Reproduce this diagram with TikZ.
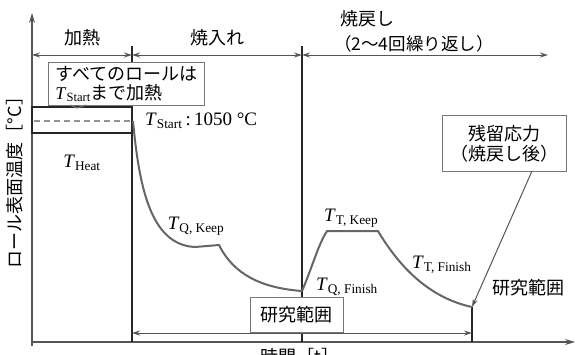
\documentclass[tikz,border=0pt]{standalone}
\usepackage{fontspec}
\setmainfont{Liberation Serif}
\newfontfamily\jp{Noto Sans CJK JP}
\usetikzlibrary{arrows.meta}
\newcommand\Tsub[1]{\textit{T}\textsubscript{#1}}
\definecolor{axisgray}{HTML}{555555}
\definecolor{curvegray}{HTML}{666666}
\definecolor{boxgray}{HTML}{777777}
\tikzset{
  axisline/.style={draw=axisgray, line width=1.3pt},
  sepline/.style={draw=black!85, line width=1.2pt},
  curveline/.style={draw=curvegray, line width=2pt, line join=round},
  dimline/.style={draw=axisgray, line width=1pt, {Stealth[length=8pt,width=5pt]}-{Stealth[length=8pt,width=5pt]}},
  onearrow/.style={draw=axisgray, line width=1pt, -{Stealth[length=8pt,width=5pt]}},
  callbox/.style={draw=boxgray, line width=1pt, fill=white, inner sep=3pt},
  jplabel/.style={font=\jp\fontsize{18}{20}\selectfont, inner sep=0pt},
  tlabel/.style={font=\fontsize{19}{22}\selectfont, inner sep=0pt},
}
\begin{document}
\begin{tikzpicture}[x=1pt,y=-1pt]
\useasboundingbox (0,0) rectangle (580,354);
\fill[white] (0,0) rectangle (580,354);

% coordinates
\coordinate (ytop) at (32,13);
\coordinate (xend) at (575,342);
\coordinate (xstart) at (32,342);
\coordinate (d0) at (32,55);
\coordinate (d1) at (132,55);
\coordinate (d2) at (302,55);
\coordinate (d3) at (548,55);
\coordinate (v1top) at (132,46);
\coordinate (v1bot) at (132,342);
\coordinate (v2top) at (302,46);
\coordinate (v2bot) at (302,342);
\coordinate (tfin) at (472,307);
\coordinate (v3bot) at (472,342);
\coordinate (r0) at (132,333);
\coordinate (r1) at (472,333);

% axes
\draw[axisline, -{Stealth[length=10pt,width=6pt]}] (32,346) -- (ytop);
\draw[axisline, -{Stealth[length=10pt,width=6pt]}] (xstart) -- (xend);

% separators
\draw[sepline] (v1top) -- (v1bot);
\draw[sepline] (v2top) -- (v2bot);
\draw[sepline] (tfin) -- (v3bot);

% dimension lines
\draw[dimline] (d0) -- (d1);
\draw[dimline] (d1) -- (d2);
\draw[dimline] (d2) -- (d3);

% headers
\node[jplabel] (hHeat) at (82,38) {加熱};
\node[jplabel] (hQuench) at (217,38) {焼入れ};
\node[jplabel, anchor=west] (hTemper) at (340,19) {焼戻し};
\node[jplabel, anchor=west, font=\jp\fontsize{17.5}{20}\selectfont] (hRepeat) at (334,44) {（2～4回繰り返し）};

% heat box
\draw[sepline] (32,107) rectangle (132,133);
\draw[draw=boxgray!80, line width=1.5pt, dash pattern=on 6pt off 4pt] (34,121) -- (130,121);
\node[tlabel] (theat) at (82,163) {\Tsub{Heat}};

% callout top-left
\node[callbox, minimum width=156pt, minimum height=43pt, align=left, anchor=north west, inner sep=2pt,
      font=\fontsize{18}{20}\selectfont] (cb1) at (48,62)
  {{\jp すべてのロールは}\\[-1pt]\Tsub{Start}{\jp まで加熱}};
\draw[draw=boxgray, line width=1pt] (70,105) -- (77,108) -- (86,105);

\node[tlabel, anchor=west] (tstart) at (145,121) {\Tsub{Start}\,:\,1050 °C};

% quench curve
\draw[curveline] (133,121) .. controls (139,185) and (150,245) .. (195,247)
  -- (219,245) .. controls (234,275) and (262,288) .. (302,291);
% temper curve
\draw[curveline] (302,291) .. controls (312,268) and (318,245) .. (327,231)
  -- (378,231) .. controls (400,268) and (430,298) .. (tfin);

\node[tlabel] (tqkeep) at (196,226) {\Tsub{Q, Keep}};
\node[tlabel, anchor=west] (tqfin) at (316,287) {\Tsub{Q, Finish}};
\node[tlabel, anchor=west] (ttkeep) at (324,218) {\Tsub{T, Keep}};
\node[tlabel, anchor=west] (ttfin) at (412,265) {\Tsub{T, Finish}};

% research range arrow
\draw[dimline] (r0) -- (r1);
\node[callbox, jplabel, minimum width=93pt, minimum height=35pt, anchor=south] (rr1) at (296.5,333) {研究範囲};
\node[jplabel, anchor=west] (rr2) at (492,288) {研究範囲};

% residual stress callout
\node[callbox, jplabel, minimum width=124pt, minimum height=56pt, align=center, anchor=north west] (cb2) at (442,115)
  {残留応力\\（焼戻し後）};
\draw[onearrow] (532,171) -- (tfin);

% axis labels
\node[jplabel, rotate=90] (ylab) at (15,178) {ロール表面温度［°C］};
\node[jplabel] (xlab) at (300,357) {時間［t］};
\end{tikzpicture}
\end{document}
